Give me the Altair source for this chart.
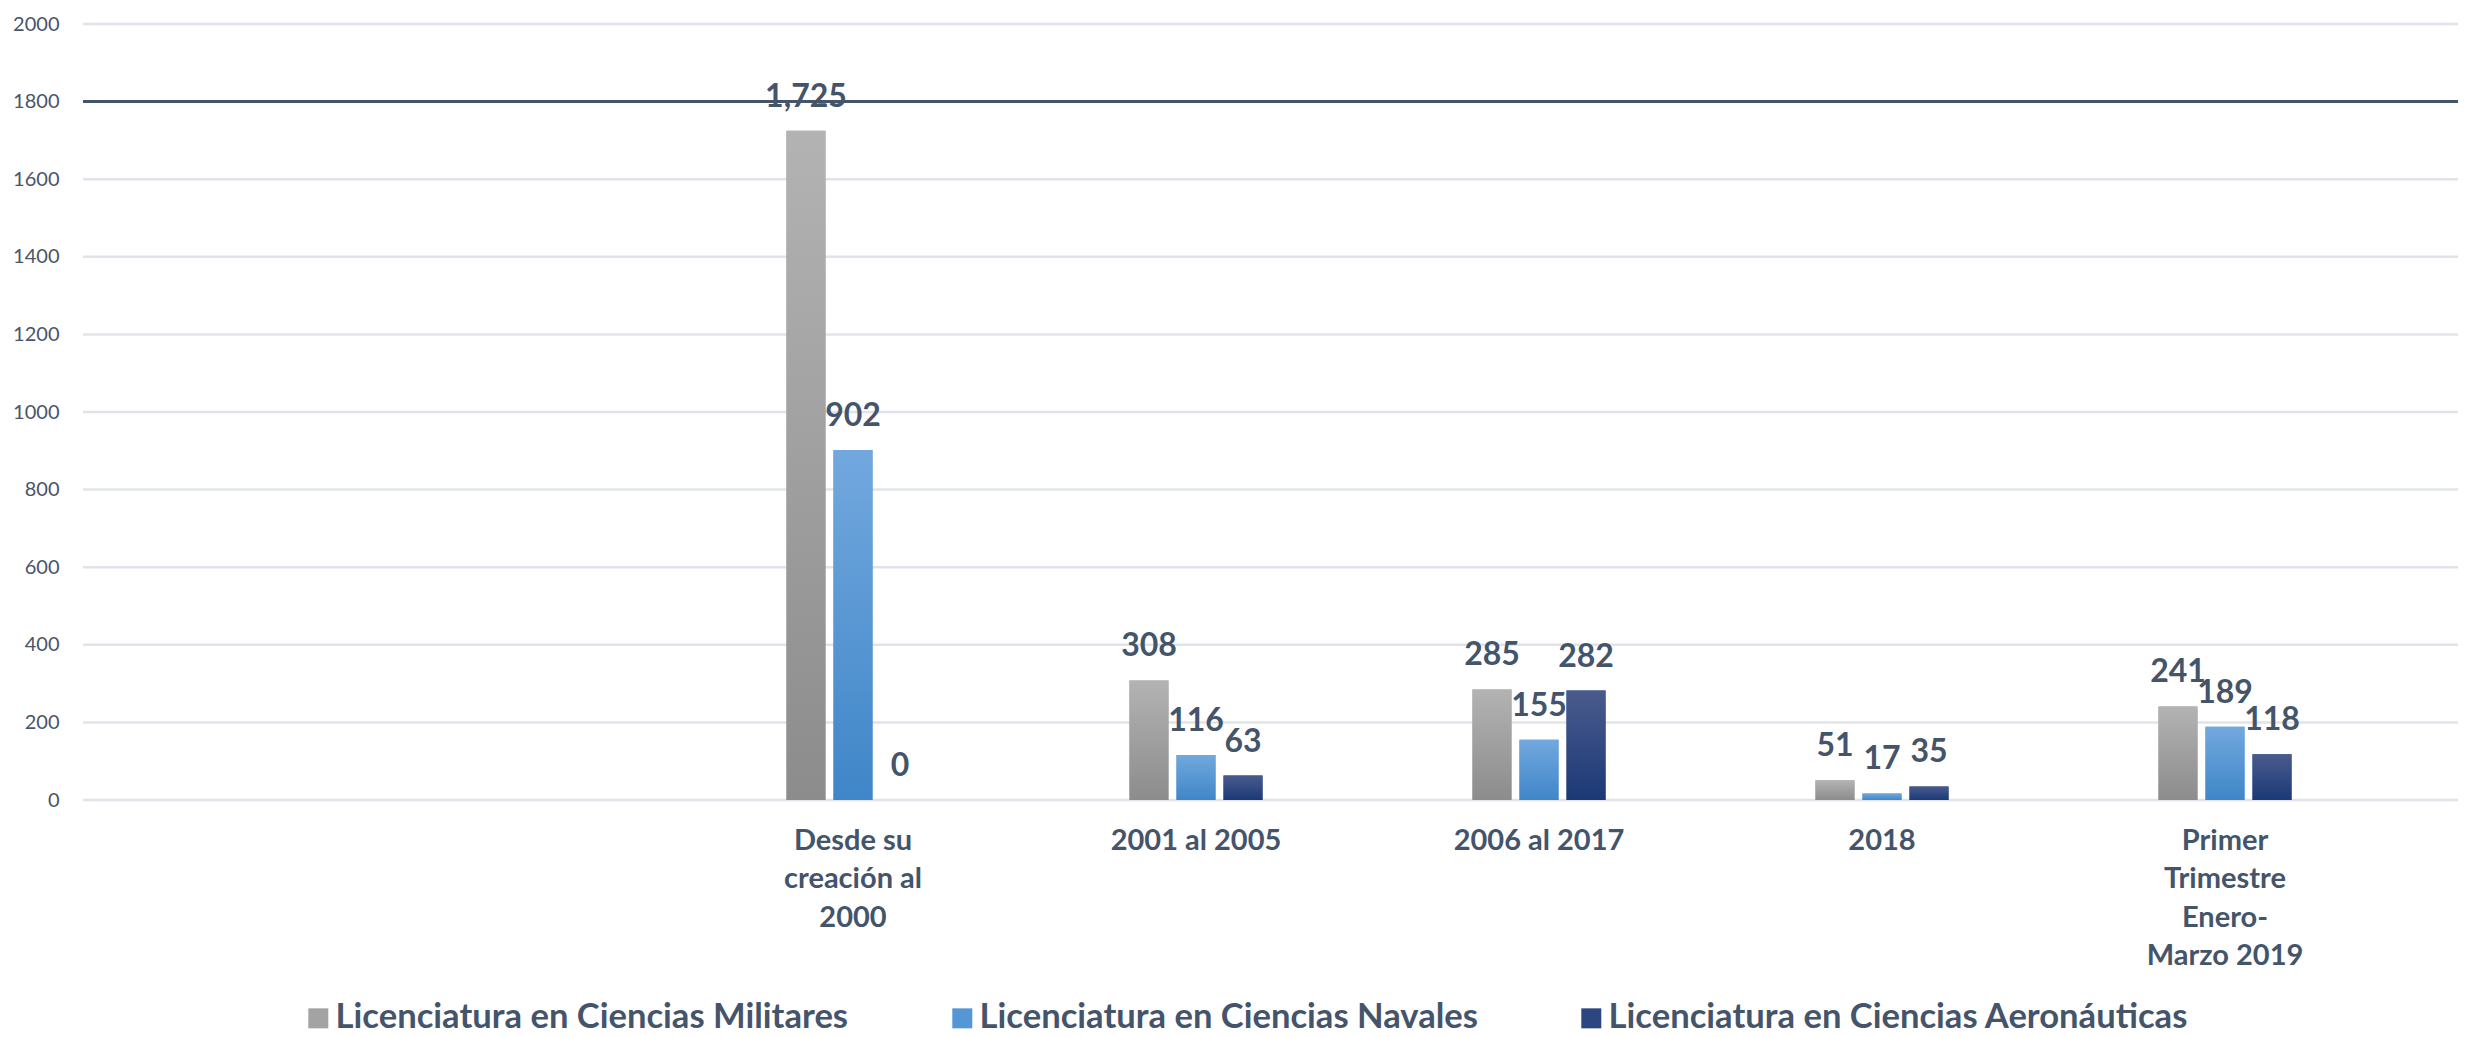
import altair as alt
import pandas as pd

# ---------------- data ----------------
categories = [
    "Desde su creación al 2000",
    "2001 al 2005",
    "2006 al 2017",
    "2018",
    "Primer Trimestre Enero-Marzo 2019",
]
category_lines = [
    ["Desde su", "creación al", "2000"],
    ["2001 al 2005"],
    ["2006 al 2017"],
    ["2018"],
    ["Primer", "Trimestre", "Enero-", "Marzo 2019"],
]
series = [
    "Licenciatura en Ciencias Militares",
    "Licenciatura en Ciencias Navales",
    "Licenciatura en Ciencias Aeronáuticas",
]
militares = [1725, 308, 285, 51, 241]
navales = [902, 116, 155, 17, 189]
aeronauticas = [0, 63, 282, 35, 118]
reference_line = 1800
y_ticks = [0, 200, 400, 600, 800, 1000, 1200, 1400, 1600, 1800, 2000]

rows = []
for vals, s in zip([militares, navales, aeronauticas], series):
    for c, v in zip(categories, vals):
        rows.append({"category": c, "series": s, "value": v})
df = pd.DataFrame(rows)

# ---------------- style ----------------
TEXT = "#44546A"
FONT = "Lato"
solid = ["#A3A3A3", "#5596D4", "#2C4680"]
gradients = [
    ("#B3B3B3", "#8C8C8C"),
    ("#72A8DE", "#3F86C8"),
    ("#4A5B8D", "#1B3977"),
]


def grad(top, bottom):
    return {
        "gradient": "linear",
        "x1": 0, "y1": 0, "x2": 0, "y2": 1,
        "stops": [{"offset": 0, "color": top}, {"offset": 1, "color": bottom}],
    }


label_expr = ""
for c, lines in zip(categories, category_lines):
    arr = "[" + ",".join("'" + l + "'" for l in lines) + "]"
    label_expr += f"datum.value == '{c}' ? {arr} : "
label_expr += "datum.label"

x_enc = alt.X(
    "category:N",
    sort=categories,
    scale=alt.Scale(domain=categories, range=[598.5, 2313.5],
                    paddingInner=0.612, paddingOuter=0.306),
    axis=alt.Axis(
        title=None, domain=False, ticks=False, grid=False,
        labelAngle=0, labelFont=FONT, labelFontSize=29, labelFontWeight="bold",
        labelColor=TEXT, labelPadding=26, labelBaseline="top",
        labelLineHeight=38.5, labelLimit=500, labelExpr=label_expr,
    ),
)
xo_enc = alt.XOffset(
    "series:N", sort=series,
    scale=alt.Scale(domain=series, paddingInner=0.17, paddingOuter=0),
)
y_scale = alt.Scale(domain=[0, 2000], nice=False)
y_enc = alt.Y(
    "value:Q",
    scale=y_scale,
    axis=alt.Axis(
        title=None, domain=False, ticks=False, grid=False, values=y_ticks, format="d",
        labelFont=FONT, labelFontSize=20, labelColor="#4A5568", labelPadding=24,
    ),
)

base = alt.Chart(df).encode(x=x_enc, xOffset=xo_enc, y=y_enc)

# horizontal gridlines spanning the full plot width
grid = alt.Chart(pd.DataFrame({"tick": y_ticks})).mark_rule(
    color="#E0E4EA", strokeWidth=2.5
).encode(y=alt.Y("tick:Q", scale=y_scale))

rule = alt.Chart(pd.DataFrame({"ref": [reference_line]})).mark_rule(
    color=TEXT, strokeWidth=3
).encode(y=alt.Y("ref:Q", scale=y_scale))

bars = base.mark_bar().encode(
    color=alt.Color(
        "series:N",
        scale=alt.Scale(domain=series, range=solid),
        legend=alt.Legend(
            title=None, orient="none", legendX=218, legendY=977,
            direction="horizontal", symbolType="square", symbolSize=400,
            symbolStrokeWidth=0, labelFont=FONT, labelFontSize=34.6,
            labelFontWeight="bold", labelColor=TEXT, labelOffset=0,
            columnPadding=96, labelLimit=1000, padding=0,
        ),
    )
)

grad_layers = []
for s, (top, bottom) in zip(series, gradients):
    grad_layers.append(
        base.transform_filter(alt.datum.series == s).mark_bar(color=grad(top, bottom))
    )

labels = base.mark_text(
    font=FONT, fontSize=32, fontWeight="bold", color=TEXT,
    baseline="alphabetic", dy=-24,
).encode(text=alt.Text("value:Q", format=","))

chart = alt.layer(grid, rule, bars, *grad_layers, labels).properties(
    width=2375,
    height=776,
    autosize=alt.AutoSizeParams(type="none"),
    padding={"left": 75, "top": 16, "right": 0, "bottom": 235},
    background="white",
).configure_view(stroke=None)

chart.save("out.html", embed_options={"renderer": "svg", "actions": False})
